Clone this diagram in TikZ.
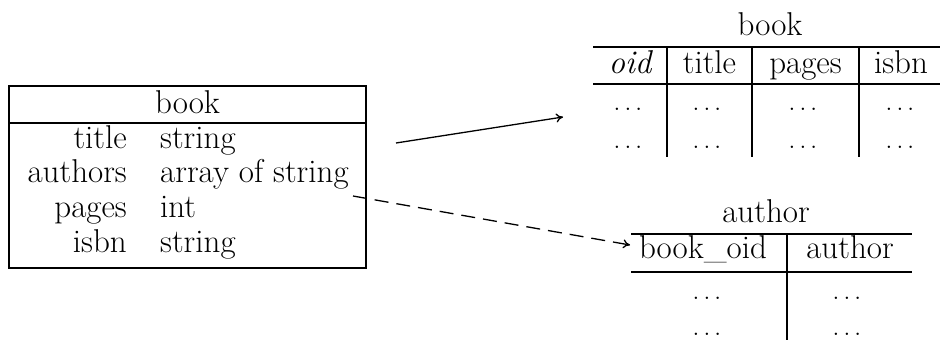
\documentclass[tikz,border=0pt]{standalone}
\usepackage{fontspec}
\usetikzlibrary{arrows.meta}
\begin{document}
\begin{tikzpicture}[x=1pt,y=-1pt,
  every node/.style={font=\fontsize{33}{40}\selectfont, inner sep=0pt},
  frame/.style={line width=2pt},
  rulel/.style={line width=2.2pt},
  link/.style={-{To[length=7pt,width=9pt]}, line width=1.3pt},
  dashlink/.style={link, dash pattern=on 14pt off 8pt}]
\useasboundingbox (0,0) rectangle (940,340);

% left box
\draw[frame] (9,86) rectangle (366,268);
\draw[frame] (9,123) -- (366,123);
\node[anchor=base] (lb) at (187.5,113) {book};
\node[anchor=base east] (k1) at (127,148) {title};
\node[anchor=base west] (v1) at (160,148) {string};
\node[anchor=base east] (k2) at (127,182.7) {authors};
\node[anchor=base west] (v2) at (160,182.7) {array of string};
\node[anchor=base east] (k3) at (127,217.3) {pages};
\node[anchor=base west] (v3) at (160,217.3) {int};
\node[anchor=base east] (k4) at (127,252) {isbn};
\node[anchor=base west] (v4) at (160,252) {string};

% book table
\node[anchor=base] (tb) at (770,35) {book};
\draw[rulel] (593,47) -- (940,47);
\draw[rulel] (593,84) -- (940,84);
\foreach \x in {667,752,859} \draw[rulel] (\x,47) -- (\x,157);
\node[anchor=base] (h1) at (630,73) {\itshape oid};
\node[anchor=base] (h2) at (709.5,73) {title};
\node[anchor=base] (h3) at (805.5,73) {pages};
\node[anchor=base] (h4) at (901,73) {isbn};
\foreach \x/\n in {628/a,707/b,803/c,900/d} {
  \node[anchor=base] (r1\n) at (\x,110) {$\ldots$};
  \node[anchor=base] (r2\n) at (\x,148) {$\ldots$};
}

% author table
\node[anchor=base] (ta) at (766,222) {author};
\draw[rulel] (631,234) -- (912,234);
\draw[rulel] (631,272) -- (912,272);
\draw[rulel] (787,234) -- (787,340);
\node[anchor=base] (g1) at (703,258) {book\_oid};
\node[anchor=base] (g2) at (850,258) {author};
\foreach \x/\n in {707/a,847/b} {
  \node[anchor=base] (s1\n) at (\x,299) {$\ldots$};
  \node[anchor=base] (s2\n) at (\x,335) {$\ldots$};
}

% connectors
\coordinate (p1) at (396,143);
\coordinate (q1) at (563,117);
\draw[link] (p1) -- (q1);
\coordinate (p2) at (353,196);
\coordinate (q2) at (630,245);
\draw[dashlink] (p2) -- (q2);
\end{tikzpicture}
\end{document}
